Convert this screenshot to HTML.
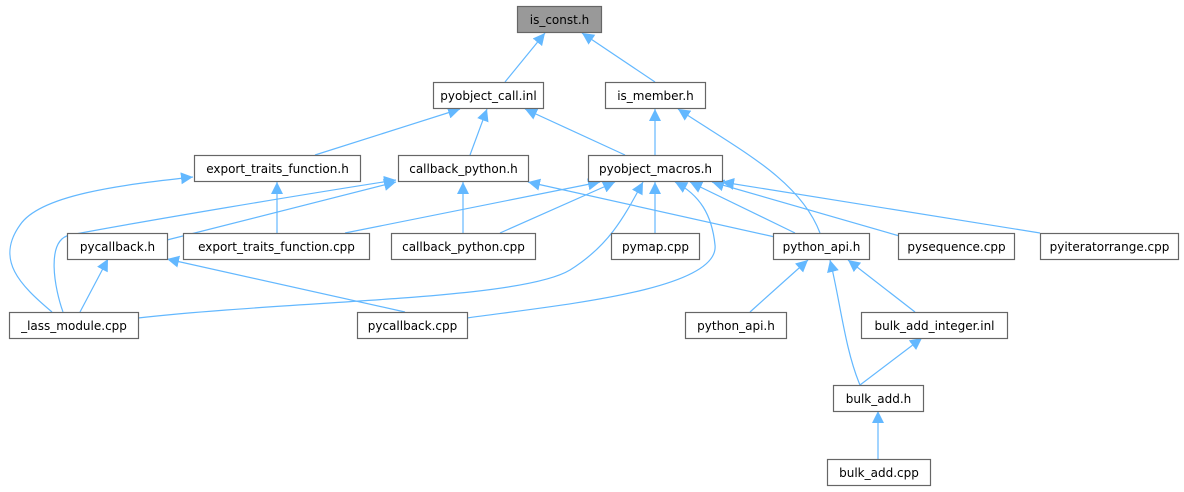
<!DOCTYPE html>
<html><head><meta charset="utf-8"><style>
html,body{margin:0;padding:0;background:#fff;}
svg{display:block;}
text{font-family:"DejaVu Sans","Liberation Sans",sans-serif;font-size:12px;fill:#000;}
</style></head><body>
<svg width="1184" height="492" viewBox="0 0 1184 492" xmlns="http://www.w3.org/2000/svg">
<defs>
<marker id="a" viewBox="0 0 10 10" refX="10" refY="5" markerWidth="12" markerHeight="12" markerUnits="userSpaceOnUse" orient="auto">
<path d="M0,0 L10,5 L0,10 z" fill="#63b8ff"/>
</marker>
</defs>
<g fill="none" stroke="#63b8ff" stroke-width="1.2" marker-end="url(#a)">
<path d="M505,82 L545,33"/>
<path d="M655,82 L582,33"/>
<path d="M315,155 L460,109"/>
<path d="M470,155 L487,109"/>
<path d="M625,155 L525,109"/>
<path d="M655,155 L655,109"/>
<path d="M820,233 C800,180 740,150 678,109"/>
<path d="M277,233 L277,182"/>
<path d="M52,312 C20,285 -5,260 20,225 C40,195 120,185 193,177"/>
<path d="M163,241 L396,182"/>
<path d="M63,312 C55,290 45,240 70,235 C150,220 300,195 396,180"/>
<path d="M463,233 L463,182"/>
<path d="M775,237 L528,182"/>
<path d="M345,233 L600,182"/>
<path d="M500,233 L615,182"/>
<path d="M138,318 C300,300 520,300 570,270 C610,245 625,215 643,182"/>
<path d="M467,318 C560,305 720,290 715,245 C712,215 700,195 675,182"/>
<path d="M655,233 L655,182"/>
<path d="M795,233 L690,182"/>
<path d="M903,237 L712,182"/>
<path d="M1040,233 L722,182"/>
<path d="M405,312 L167,259"/>
<path d="M80,312 L108,259"/>
<path d="M750,312 L808,260"/>
<path d="M915,312 L848,260"/>
<path d="M860,385 C845,350 840,300 830,260"/>
<path d="M860,385 L922,338"/>
<path d="M878,459 L878,411"/>
</g>
<g stroke="#666" stroke-width="1.2" fill="#fff">
<rect x="517.5" y="6.5" width="84" height="26" fill="#999"/>
<rect x="433.5" y="82.5" width="110" height="26"/>
<rect x="605.5" y="82.5" width="100" height="26"/>
<rect x="194.5" y="155.5" width="166" height="26"/>
<rect x="398.5" y="155.5" width="130" height="26"/>
<rect x="588.5" y="155.5" width="134" height="26"/>
<rect x="67.5" y="233.5" width="100" height="26"/>
<rect x="183.5" y="233.5" width="186" height="26"/>
<rect x="391.5" y="233.5" width="144" height="26"/>
<rect x="611.5" y="233.5" width="88" height="26"/>
<rect x="773.5" y="233.5" width="96" height="26"/>
<rect x="898.5" y="233.5" width="116" height="26"/>
<rect x="1040.5" y="233.5" width="138" height="26"/>
<rect x="9.5" y="312.5" width="129" height="26"/>
<rect x="357.5" y="312.5" width="110" height="26"/>
<rect x="685.5" y="312.5" width="101" height="26"/>
<rect x="861.5" y="312.5" width="146" height="26"/>
<rect x="833.5" y="385.5" width="90" height="26"/>
<rect x="827.5" y="459.5" width="103" height="26"/>
</g>
<g text-anchor="middle">
<text x="559.5" y="24">is_const.h</text>
<text x="488.5" y="100">pyobject_call.inl</text>
<text x="655.5" y="100">is_member.h</text>
<text x="277.5" y="173">export_traits_function.h</text>
<text x="463.5" y="173">callback_python.h</text>
<text x="655.5" y="173">pyobject_macros.h</text>
<text x="117.5" y="251">pycallback.h</text>
<text x="276.5" y="251">export_traits_function.cpp</text>
<text x="463.5" y="251">callback_python.cpp</text>
<text x="655.5" y="251">pymap.cpp</text>
<text x="821.5" y="251">python_api.h</text>
<text x="956.5" y="251">pysequence.cpp</text>
<text x="1109.5" y="251">pyiteratorrange.cpp</text>
<text x="74" y="330">_lass_module.cpp</text>
<text x="412.5" y="330">pycallback.cpp</text>
<text x="736" y="330">python_api.h</text>
<text x="934.5" y="330">bulk_add_integer.inl</text>
<text x="878.5" y="403">bulk_add.h</text>
<text x="879" y="477">bulk_add.cpp</text>
</g>
</svg>
</body></html>
